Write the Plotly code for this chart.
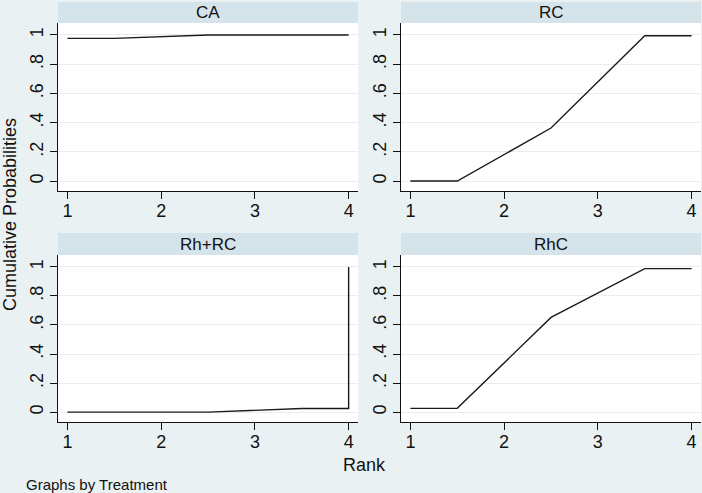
import plotly.graph_objects as go

# ---- data ----
treatments = ["CA", "RC", "Rh+RC", "RhC"]
ca_x = [1, 1.5, 2.5, 3.5, 4]
ca_y = [0.977, 0.977, 1.0, 1.0, 1.0]
rc_x = [1, 1.5, 2.5, 3.5, 4]
rc_y = [0.0, 0.0, 0.363, 0.995, 0.995]
rhrc_x = [1, 1.5, 2.5, 3.5, 4, 4]
rhrc_y = [0.0, 0.0, 0.0, 0.025, 0.025, 1.0]
rhc_x = [1, 1.5, 2.5, 3.5, 4]
rhc_y = [0.026, 0.026, 0.652, 0.988, 0.988]
ytick_vals = [0, 0.2, 0.4, 0.6, 0.8, 1]
ytick_text = ["0", ".2", ".4", ".6", ".8", "1"]
xtick_vals = [1, 2, 3, 4]
xtick_text = ["1", "2", "3", "4"]

series_x = [ca_x, rc_x, rhrc_x, rhc_x]
series_y = [ca_y, rc_y, rhrc_y, rhc_y]

W, H = 702, 493
BG = "#e9f1f3"
STRIP = "#d5e3ea"
GRID = "#e6eef1"
FONT = "Liberation Sans, Arial, sans-serif"

def px_x(p):
    return p / W

def px_y(p):
    return 1 - p / H

# panel pixel boxes: (left, right, top, bottom)
panels = [
    (58, 358, 23, 191),
    (401, 701, 23, 191),
    (58, 358, 255, 422),
    (401, 701, 255, 422),
]
strips = [(2, 23), (2, 23), (233, 255), (233, 255)]

fig = go.Figure()
layout = dict(
    width=W, height=H, autosize=False,
    margin=dict(l=0, r=0, t=0, b=0),
    paper_bgcolor=BG, plot_bgcolor="white",
    showlegend=False,
    font=dict(family=FONT, color="#111111"),
)
shapes = []
annotations = []

for i, (name, xs, ys) in enumerate(zip(treatments, series_x, series_y)):
    l, r, t, b = panels[i]
    xa = "xaxis" if i == 0 else f"xaxis{i+1}"
    ya = "yaxis" if i == 0 else f"yaxis{i+1}"
    xref = "x" if i == 0 else f"x{i+1}"
    yref = "y" if i == 0 else f"y{i+1}"
    fig.add_trace(go.Scatter(x=xs, y=ys, mode="lines",
                             line=dict(color="#1a1a1a", width=1.4),
                             xaxis=xref, yaxis=yref, hoverinfo="skip"))
    layout[xa] = dict(
        domain=[px_x(l), px_x(r)], anchor=yref, range=[0.9, 4.1],
        tickvals=xtick_vals, ticktext=xtick_text,
        ticks="outside", ticklen=7, tickwidth=1, tickcolor="#111111",
        ticklabelstandoff=-4,
        showline=True, linecolor="#111111", linewidth=1,
        showgrid=False, zeroline=False,
        tickfont=dict(size=18, family=FONT, color="#111111"),
        fixedrange=True,
    )
    layout[ya] = dict(
        domain=[px_y(b), px_y(t)], anchor=xref, range=[-0.068, 1.082],
        tickvals=ytick_vals, ticktext=ytick_text, tickangle=-90,
        ticks="outside", ticklen=7, tickwidth=1, tickcolor="#111111",
        showline=True, linecolor="#111111", linewidth=1,
        showgrid=True, gridcolor=GRID, gridwidth=1, zeroline=False,
        tickfont=dict(size=18, family=FONT, color="#111111"),
        fixedrange=True,
    )
    st, sb = strips[i]
    shapes.append(dict(type="rect", xref="paper", yref="paper",
                       x0=px_x(l), x1=px_x(r), y0=px_y(sb), y1=px_y(st),
                       fillcolor=STRIP, line=dict(width=0), layer="below"))
    annotations.append(dict(text=name, xref="paper", yref="paper",
                            x=px_x((l + r) / 2), y=px_y((st + sb) / 2),
                            xanchor="center", yanchor="middle", showarrow=False,
                            font=dict(size=17, family=FONT, color="#111111")))

annotations.append(dict(text="Cumulative Probabilities", xref="paper", yref="paper",
                        x=px_x(10), y=px_y(215), textangle=-90,
                        xanchor="center", yanchor="middle", showarrow=False,
                        font=dict(size=18, family=FONT, color="#111111")))
annotations.append(dict(text="Rank", xref="paper", yref="paper",
                        x=px_x(364), y=px_y(465),
                        xanchor="center", yanchor="middle", showarrow=False,
                        font=dict(size=18, family=FONT, color="#111111")))
annotations.append(dict(text="Graphs by Treatment", xref="paper", yref="paper",
                        x=px_x(24), y=px_y(484),
                        xanchor="left", yanchor="middle", showarrow=False,
                        font=dict(size=15, family=FONT, color="#111111")))

layout["shapes"] = shapes
layout["annotations"] = annotations
fig.update_layout(**layout)
fig.write_html("out.html")
